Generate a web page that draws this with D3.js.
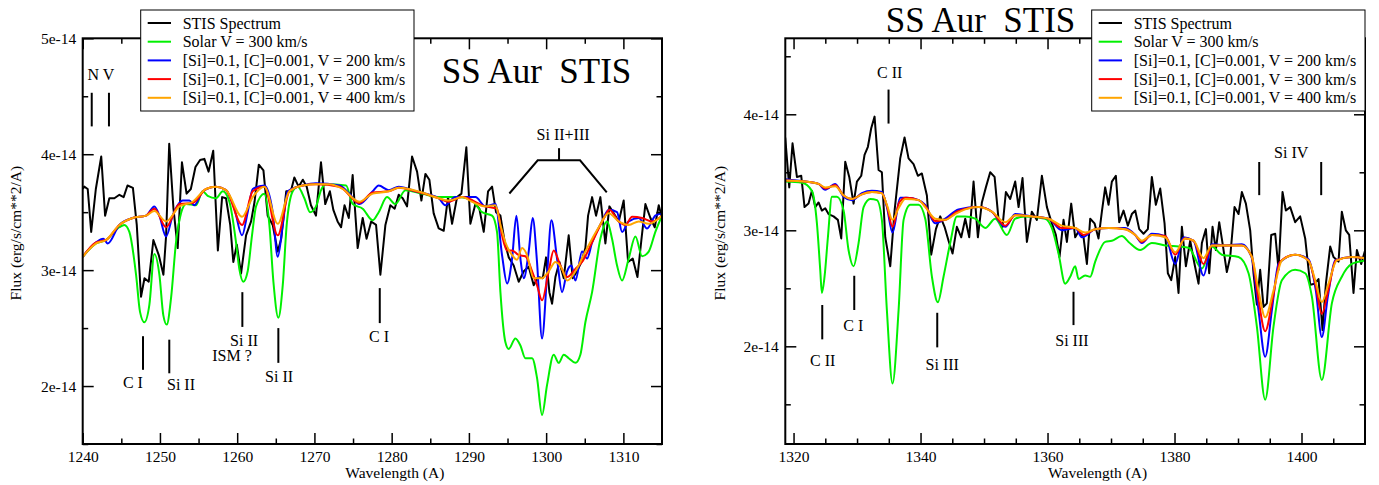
<!DOCTYPE html>
<html>
<head>
<meta charset="utf-8">
<script src="https://cdn.jsdelivr.net/npm/d3@7"></script>
<style>
  body { margin: 0; background: #fff; }
  svg text { font-family: "Liberation Serif", "Times New Roman", serif; fill: #000; }
  .axis .tick text { font-size: 15.5px; font-family: "Liberation Serif", "Times New Roman", serif; }
  .axis line { stroke: #000; stroke-width: 1.5; }
  .axis path.domain { display: none; }
  .frame { fill: none; stroke: #000; stroke-width: 2; }
  .spec { fill: none; stroke-width: 2; stroke-linejoin: round; }
  .legend-box { fill: #fff; stroke: #000; stroke-width: 1; }
  .legend-label { font-size: 16px; }
  .note { font-size: 16px; text-anchor: middle; }
  .marker { stroke: #000; stroke-width: 2; fill: none; }
  .title { font-size: 35px; white-space: pre; }
  .axis-title { font-size: 15.5px; text-anchor: middle; }
</style>
</head>
<body>
<div id="chart"></div>
<script>
// Flux is in units of 1e-14 erg/s/cm**2/A, wavelength in Angstrom

const seriesNames = ["STIS Spectrum", "Solar V = 300 km/s",
  "[Si]=0.1, [C]=0.001, V = 200 km/s", "[Si]=0.1, [C]=0.001, V = 300 km/s",
  "[Si]=0.1, [C]=0.001, V = 400 km/s"];
const seriesColors = ["#000000", "#00f000", "#0000ff", "#ff0000", "#ffa500"];

// ---------- left panel (1240 - 1315 A) ----------
const leftXTicks = [1240, 1250, 1260, 1270, 1280, 1290, 1300, 1310];
const leftXMinor = [1245, 1255, 1265, 1275, 1285, 1295, 1305];
const leftYTicks = [2, 3, 4, 5];
const leftYMinor = [1.5, 2.5, 3.5, 4.5];

const leftStis = [[1240.0,3.70],[1240.2,3.72],[1240.65,3.70],[1241.1,3.33],[1241.7,3.70],[1242.4,3.98],[1242.9,3.47],
  [1243.45,3.62],[1244.1,3.62],[1244.75,3.65],[1245.3,3.63],[1245.8,3.73],[1246.5,3.71],[1247.0,3.39],[1247.55,2.77],
  [1248.0,2.93],[1248.55,2.90],[1249.15,3.26],[1249.85,3.13],[1250.45,2.96],[1250.8,3.30],[1251.2,4.09],[1251.75,3.53],
  [1252.3,3.19],[1252.85,3.93],[1253.45,3.66],[1254.0,3.70],[1254.6,3.89],[1255.2,3.95],[1255.75,3.96],[1256.3,3.85],
  [1256.9,4.03],[1257.5,3.17],[1258.05,3.63],[1258.55,3.62],[1259.1,3.39],[1259.5,3.07],[1259.95,3.22],[1260.5,2.97],
  [1261.15,3.30],[1261.8,3.42],[1262.25,3.59],[1262.8,3.91],[1263.4,3.86],[1263.95,3.47],[1264.6,3.39],[1265.25,3.16],
  [1265.7,3.27],[1266.35,3.68],[1266.95,3.68],[1267.4,3.80],[1267.95,3.72],[1268.5,3.78],[1269.0,3.72],[1269.55,3.56],
  [1270.2,3.47],[1270.85,3.93],[1271.4,3.57],[1272.0,3.68],[1272.45,3.52],[1273.0,3.42],[1273.45,3.37],[1273.9,3.56],
  [1274.45,3.45],[1274.95,3.82],[1275.6,3.19],[1276.25,3.45],[1276.75,3.27],[1277.35,3.42],[1277.98,3.39],[1278.54,2.96],
  [1279.19,3.39],[1279.83,3.56],[1280.39,3.53],[1280.91,3.65],[1281.43,3.62],[1281.99,3.55],[1282.64,3.98],[1283.29,3.85],
  [1283.85,3.60],[1284.37,3.83],[1284.88,3.78],[1285.44,3.49],[1286.09,3.36],[1286.74,3.34],[1287.30,3.63],[1287.82,3.40],
  [1288.47,3.63],[1289.03,3.66],[1289.67,4.06],[1290.19,3.40],[1290.84,3.57],[1291.36,3.53],[1291.92,3.33],[1292.48,3.68],
  [1293.00,3.72],[1293.51,3.50],[1294.08,3.47],[1294.64,3.24],[1295.16,3.11],[1295.80,3.04],[1296.45,2.90],[1297.10,2.99],
  [1297.74,3.03],[1298.39,2.87],[1298.95,2.94],[1299.56,2.93],[1299.99,3.11],[1300.42,2.81],[1300.77,2.71],[1301.20,2.94],
  [1301.72,3.07],[1302.28,2.93],[1302.92,3.30],[1303.44,2.93],[1304.00,2.99],[1304.56,3.07],[1305.08,3.19],[1305.43,3.47],
  [1305.95,3.63],[1306.46,3.47],[1307.02,3.63],[1307.67,3.23],[1308.19,3.55],[1308.75,3.49],[1309.40,3.42],[1310.04,3.60],
  [1310.61,3.07],[1311.21,3.10],[1311.82,2.94],[1312.33,3.26],[1312.85,3.57],[1313.50,3.45],[1314.06,3.37],[1314.58,3.56],
  [1315.0,3.45]];

const leftSolar = [[1240.0,3.115],[1241.73,3.23],[1243.02,3.26],[1244.75,3.37],[1245.39,3.39],[1246.04,3.33],[1246.91,2.96],
  [1247.42,2.64],[1247.98,2.55],[1248.63,2.70],[1249.28,3.14],[1249.93,2.96],[1250.44,2.61],[1250.88,2.53],[1251.44,2.76],
  [1252.08,3.24],[1252.73,3.49],[1253.38,3.57],[1254.67,3.56],[1255.54,3.68],[1256.18,3.64],[1257.26,3.62],[1258.13,3.68],
  [1258.99,3.59],[1259.85,3.24],[1260.28,3.01],[1260.80,2.90],[1261.36,2.99],[1261.92,3.30],[1262.44,3.55],[1263.52,3.66],
  [1264.17,3.39],[1264.69,2.90],[1265.33,2.59],[1265.90,2.87],[1266.41,3.39],[1267.19,3.68],[1267.84,3.72],[1268.70,3.62],
  [1269.44,3.50],[1270.21,3.55],[1270.86,3.69],[1271.51,3.74],[1274.10,3.73],[1274.96,3.57],[1276.25,3.53],[1277.55,3.43],
  [1278.32,3.50],[1279.40,3.63],[1280.48,3.57],[1281.78,3.69],[1283.93,3.66],[1286.09,3.63],[1288.68,3.63],[1290.41,3.60],
  [1291.70,3.50],[1293.00,3.47],[1293.64,3.33],[1294.08,2.81],[1294.72,2.38],[1295.16,2.32],[1296.02,2.41],[1296.67,2.35],
  [1297.31,2.24],[1298.18,2.24],[1298.82,2.07],[1299.47,1.75],[1300.12,2.01],[1300.98,2.27],[1301.63,2.20],[1302.28,2.27],
  [1302.92,2.24],[1303.79,2.20],[1304.43,2.27],[1305.08,2.55],[1305.95,2.81],[1307.02,3.27],[1307.89,3.42],[1308.53,3.27],
  [1309.18,3.04],[1309.83,2.91],[1310.69,3.10],[1311.56,3.29],[1312.42,3.12],[1313.28,3.16],[1314.14,3.33],[1315.0,3.47]];

const leftV200 = [[1240.0,3.115],[1241.73,3.24],[1242.68,3.27],[1243.24,3.23],[1244.75,3.39],[1246.47,3.45],[1248.20,3.47],
  [1249.28,3.55],[1249.93,3.47],[1250.79,3.29],[1251.65,3.47],[1252.95,3.60],[1253.81,3.60],[1254.46,3.56],[1255.54,3.68],
  [1257.26,3.72],[1258.56,3.69],[1259.64,3.53],[1260.63,3.30],[1261.36,3.50],[1262.01,3.70],[1263.52,3.73],[1264.60,3.50],
  [1265.25,3.115],[1265.90,3.39],[1266.54,3.68],[1268.49,3.73],[1270.21,3.75],[1273.23,3.73],[1274.53,3.66],[1275.82,3.57],
  [1277.55,3.68],[1278.32,3.73],[1279.62,3.69],[1280.91,3.72],[1283.07,3.68],[1286.09,3.62],[1286.95,3.56],[1288.25,3.63],
  [1290.84,3.63],[1292.13,3.55],[1293.43,3.57],[1294.29,3.13],[1294.94,2.885],[1295.59,3.10],[1296.15,3.47],[1296.67,3.10],
  [1297.10,2.93],[1297.74,3.16],[1298.26,3.45],[1298.82,3.07],[1299.47,2.41],[1300.12,2.96],[1300.68,3.43],[1301.41,3.10],
  [1302.06,2.81],[1302.71,2.99],[1303.27,3.04],[1303.79,2.91],[1304.65,3.16],[1305.30,3.10],[1305.95,3.24],[1307.24,3.42],
  [1308.10,3.52],[1309.18,3.50],[1309.83,3.33],[1310.69,3.42],[1311.99,3.45],[1313.07,3.36],[1314.14,3.47],[1315.0,3.49]];

const leftV300 = [[1240.0,3.115],[1241.73,3.24],[1243.02,3.26],[1244.75,3.39],[1246.47,3.45],[1248.20,3.47],[1249.28,3.53],
  [1250.79,3.37],[1252.52,3.57],[1254.24,3.58],[1255.97,3.70],[1257.26,3.72],[1258.56,3.69],[1260.63,3.39],[1262.01,3.68],
  [1263.52,3.72],[1265.25,3.30],[1266.76,3.68],[1268.49,3.73],[1270.21,3.74],[1273.23,3.72],[1275.82,3.58],[1277.55,3.67],
  [1279.62,3.68],[1280.91,3.71],[1283.07,3.68],[1286.09,3.62],[1287.39,3.59],[1289.11,3.63],[1292.13,3.55],[1293.64,3.53],
  [1294.29,3.30],[1294.94,3.17],[1295.59,3.17],[1296.45,3.13],[1297.31,3.12],[1298.18,2.99],[1298.82,2.87],[1299.47,2.74],
  [1300.33,2.99],[1300.98,3.17],[1301.84,3.04],[1302.71,2.94],[1303.79,3.01],[1304.65,3.07],[1305.95,3.24],[1307.67,3.47],
  [1308.19,3.52],[1309.40,3.42],[1310.26,3.39],[1311.13,3.46],[1312.42,3.45],[1313.71,3.42],[1315.0,3.47]];

const leftV400 = [[1240.0,3.115],[1241.73,3.23],[1243.02,3.26],[1244.75,3.39],[1246.47,3.45],[1248.20,3.47],[1249.28,3.51],
  [1250.79,3.42],[1252.52,3.55],[1254.24,3.59],[1255.97,3.70],[1257.26,3.72],[1258.56,3.69],[1260.63,3.46],[1262.01,3.63],
  [1263.52,3.72],[1265.25,3.40],[1266.76,3.68],[1268.49,3.73],[1270.21,3.74],[1271.94,3.74],[1273.66,3.70],[1275.82,3.59],
  [1277.55,3.66],[1279.62,3.68],[1280.91,3.71],[1282.21,3.70],[1283.93,3.67],[1286.09,3.62],[1287.39,3.60],[1289.11,3.63],
  [1290.41,3.59],[1292.13,3.55],[1293.43,3.56],[1294.08,3.39],[1294.72,3.24],[1295.59,3.13],[1296.23,3.09],[1296.88,3.19],
  [1297.53,3.13],[1298.39,2.93],[1299.47,2.93],[1300.33,2.99],[1301.20,3.07],[1302.06,3.01],[1302.71,2.91],[1303.79,2.99],
  [1305.08,3.16],[1306.81,3.37],[1308.10,3.49],[1309.40,3.42],[1310.69,3.39],[1311.99,3.42],[1313.28,3.40],[1315.0,3.47]];

// line identifications: tick marks and labels, in data coordinates
const leftMarks = [
  [[1241.17,4.53],[1241.17,4.24]], [[1243.4,4.53],[1243.4,4.24]],
  [[1247.81,2.43],[1247.81,2.14]], [[1251.21,2.40],[1251.21,2.11]],
  [[1260.67,2.81],[1260.67,2.51]], [[1265.33,2.50],[1265.33,2.20]],
  [[1278.46,2.845],[1278.46,2.543]],
  [[1301.67,4.052],[1301.67,3.948]],
  [[1295.24,3.661],[1298.91,3.948],[1304.39,3.948],[1307.85,3.670]]
];
const leftNotes = [
  {text: "N V", at: [1242.37, 4.64]},
  {text: "C I", at: [1246.5, 1.983]},
  {text: "Si II", at: [1252.73, 1.966]},
  {text: "Si II", at: [1260.89, 2.345]},
  {text: "ISM ?", at: [1259.33, 2.218]},
  {text: "Si II", at: [1265.42, 2.037]},
  {text: "C I", at: [1278.37, 2.382]},
  {text: "Si II+III", at: [1302.19, 4.121]}
];

// ---------- right panel (1318.7 - 1410 A) ----------
const rightXTicks = [1320, 1340, 1360, 1380, 1400];
const rightXMinor = [1325, 1330, 1335, 1345, 1350, 1355, 1365, 1370, 1375, 1385, 1390, 1395, 1405];
const rightYTicks = [2, 3, 4];
const rightYMinor = [1.5, 2.5, 3.5, 4.5];

const rightStis = [[1318.69,3.80],[1319.32,3.37],[1319.84,3.75],[1320.53,3.46],[1321.21,3.47],[1321.73,3.20],[1322.36,3.23],
  [1322.89,3.34],[1323.41,3.20],[1323.94,3.24],[1324.46,3.17],[1324.99,3.19],[1325.51,3.14],[1326.30,3.12],[1326.98,3.09],
  [1327.51,2.93],[1328.14,3.59],[1328.77,3.46],[1329.45,3.23],[1329.98,3.42],[1330.66,3.47],[1331.18,3.65],[1331.71,3.72],
  [1332.23,3.88],[1332.76,3.98],[1333.39,3.52],[1333.91,3.50],[1334.44,2.94],[1335.23,2.69],[1335.91,3.17],[1336.80,3.62],
  [1337.48,3.80],[1338.11,3.62],[1338.90,3.57],[1339.58,3.47],[1340.21,3.49],[1341.00,3.30],[1341.68,2.79],[1342.42,3.01],
  [1343.10,3.12],[1343.78,3.03],[1344.41,2.91],[1345.04,2.80],[1345.72,3.03],[1346.41,2.94],[1347.04,3.10],[1347.67,2.94],
  [1348.35,3.42],[1349.03,2.94],[1349.66,3.24],[1350.29,3.37],[1350.97,3.50],[1351.66,3.46],[1352.29,3.09],[1352.91,3.03],
  [1353.44,3.33],[1354.12,3.27],[1354.91,3.42],[1355.44,3.20],[1356.06,3.45],[1356.75,2.90],[1357.53,3.16],[1358.32,3.09],
  [1359.11,3.47],[1359.90,3.20],[1360.68,3.06],[1361.31,2.96],[1361.89,2.77],[1362.52,3.09],[1363.05,2.90],[1363.73,3.23],
  [1364.36,2.94],[1364.88,2.99],[1365.67,2.94],[1366.20,2.71],[1366.72,3.10],[1367.40,3.06],[1368.03,2.93],[1368.56,3.16],
  [1369.08,3.37],[1369.61,3.22],[1370.13,3.42],[1370.76,3.47],[1371.29,3.07],[1371.97,3.17],[1372.65,3.04],[1373.28,3.14],
  [1373.81,3.17],[1374.44,3.01],[1375.12,2.97],[1375.80,3.01],[1376.43,3.46],[1377.06,3.22],[1377.75,3.36],[1378.43,3.06],
  [1378.95,2.63],[1379.48,2.57],[1380.11,2.77],[1380.63,2.46],[1381.16,3.03],[1381.79,2.69],[1382.47,2.91],[1383.15,2.71],
  [1383.78,2.54],[1384.31,2.89],[1384.94,3.01],[1385.46,2.63],[1385.99,3.03],[1386.51,2.83],[1387.04,3.07],[1387.56,2.89],
  [1388.24,2.64],[1388.77,2.77],[1389.45,3.20],[1390.08,3.14],[1390.61,3.33],[1391.24,3.23],[1391.92,3.00],[1392.44,2.63],
  [1392.97,2.36],[1393.49,2.66],[1394.02,2.34],[1394.54,2.37],[1395.23,2.96],[1395.86,2.97],[1396.38,2.66],[1397.01,3.33],
  [1397.54,3.17],[1398.22,3.20],[1399.00,3.07],[1399.79,3.12],[1400.58,2.93],[1401.37,2.53],[1402.05,2.54],[1402.68,2.58],
  [1403.31,2.14],[1403.84,2.54],[1404.52,2.86],[1405.04,2.77],[1405.83,2.73],[1406.35,3.16],[1406.98,3.00],[1407.51,2.96],
  [1408.19,2.46],[1408.72,2.83],[1409.40,2.71],[1410.03,2.83]];

const rightSolar = [[1318.69,3.42],[1321.31,3.41],[1322.89,3.34],[1323.68,3.06],[1324.20,2.66],[1324.46,2.46],[1324.88,2.60],
  [1325.41,2.94],[1326.04,3.29],[1326.83,3.29],[1327.88,3.17],[1328.66,2.83],[1329.45,2.69],[1330.24,2.89],[1331.03,3.20],
  [1332.08,3.27],[1333.13,3.26],[1333.91,3.09],[1334.70,2.31],[1335.59,1.68],[1336.54,2.31],[1337.33,3.09],[1338.38,3.22],
  [1339.69,3.22],[1340.74,3.10],[1341.79,2.60],[1342.73,2.38],[1343.62,2.60],[1344.67,2.89],[1345.72,3.12],[1347.04,3.12],
  [1348.61,3.10],[1350.19,3.02],[1351.76,3.10],[1353.60,2.96],[1354.91,3.10],[1356.48,3.12],[1359.63,3.10],[1360.68,3.02],
  [1361.73,2.80],[1362.78,2.54],[1363.57,2.60],[1364.36,2.69],[1364.88,2.58],[1365.93,2.61],[1366.72,2.60],[1367.51,2.73],
  [1369.08,2.90],[1370.13,2.91],[1371.71,2.95],[1372.76,2.90],[1374.60,2.83],[1376.43,2.89],[1378.53,2.87],[1380.63,2.86],
  [1382.21,2.85],[1384.31,2.67],[1385.88,2.86],[1387.46,2.79],[1390.08,2.77],[1391.66,2.63],[1392.97,2.17],[1394.28,1.54],
  [1395.59,2.17],[1396.91,2.57],[1399.00,2.66],[1400.58,2.63],[1401.63,2.43],[1403.20,1.71],[1404.78,2.37],[1406.35,2.60],
  [1407.93,2.71],[1410.03,2.74]];

const rightV200 = [[1318.69,3.44],[1321.84,3.42],[1323.94,3.40],[1324.99,3.35],[1326.56,3.40],[1327.88,3.29],[1329.19,3.26],
  [1330.76,3.32],[1332.34,3.34],[1333.91,3.33],[1334.70,3.20],[1335.59,2.98],[1336.80,3.28],[1337.85,3.28],[1339.69,3.26],
  [1340.74,3.22],[1342.31,3.06],[1343.89,3.10],[1345.98,3.18],[1349.14,3.20],[1351.24,3.16],[1353.34,3.03],[1354.91,3.14],
  [1357.53,3.12],[1360.16,3.10],[1362.26,3.00],[1364.36,3.02],[1365.41,2.94],[1367.51,3.01],[1369.61,3.02],[1372.23,3.02],
  [1373.81,2.96],[1374.86,2.89],[1376.43,2.97],[1378.53,2.95],[1380.11,2.71],[1381.42,2.94],[1383.00,2.91],[1384.57,2.61],
  [1385.88,2.88],[1387.98,2.87],[1390.61,2.88],[1392.18,2.76],[1393.23,2.31],[1394.28,1.91],[1395.33,2.31],[1396.38,2.71],
  [1399.00,2.79],[1401.10,2.75],[1402.26,2.48],[1403.20,2.08],[1404.15,2.43],[1405.31,2.74],[1407.93,2.77],[1410.03,2.76]];

const rightV300 = [[1318.69,3.43],[1321.84,3.42],[1323.94,3.40],[1324.99,3.36],[1326.56,3.39],[1327.88,3.30],[1329.19,3.27],
  [1330.76,3.31],[1332.34,3.33],[1333.91,3.32],[1334.70,3.21],[1335.59,3.03],[1336.64,3.24],[1337.69,3.28],[1339.69,3.26],
  [1340.74,3.21],[1342.31,3.08],[1343.89,3.09],[1345.72,3.16],[1349.14,3.20],[1351.24,3.16],[1353.34,3.04],[1354.91,3.13],
  [1357.53,3.12],[1360.16,3.10],[1362.26,3.02],[1364.36,3.02],[1365.67,2.96],[1367.51,3.01],[1369.61,3.02],[1372.23,3.01],
  [1373.81,2.96],[1374.86,2.90],[1376.43,2.96],[1378.53,2.95],[1380.11,2.79],[1381.58,2.93],[1383.00,2.91],[1384.57,2.71],
  [1385.88,2.87],[1387.98,2.87],[1390.61,2.87],[1392.18,2.77],[1393.23,2.40],[1394.28,2.13],[1395.44,2.40],[1396.64,2.73],
  [1399.00,2.79],[1401.10,2.74],[1402.21,2.53],[1403.20,2.28],[1404.20,2.48],[1405.41,2.74],[1407.93,2.77],[1410.03,2.76]];

const rightV400 = [[1318.69,3.43],[1321.84,3.42],[1323.94,3.40],[1324.99,3.37],[1326.56,3.38],[1327.88,3.30],[1329.19,3.27],
  [1330.76,3.31],[1332.34,3.33],[1333.91,3.32],[1334.70,3.22],[1335.59,3.09],[1336.54,3.19],[1337.59,3.27],[1339.69,3.26],
  [1340.74,3.20],[1342.31,3.10],[1343.89,3.09],[1345.46,3.14],[1347.04,3.18],[1349.14,3.20],[1351.24,3.16],[1353.34,3.07],
  [1354.91,3.13],[1357.53,3.12],[1360.16,3.10],[1362.26,3.04],[1364.36,3.02],[1365.93,2.98],[1367.51,3.01],[1369.61,3.02],
  [1372.23,3.01],[1373.81,2.96],[1374.86,2.91],[1376.43,2.96],[1378.53,2.94],[1380.11,2.81],[1381.68,2.93],[1383.00,2.91],
  [1384.57,2.76],[1385.88,2.87],[1387.98,2.87],[1390.61,2.87],[1392.18,2.77],[1393.23,2.48],[1394.28,2.25],[1395.59,2.48],
  [1396.91,2.74],[1399.00,2.79],[1401.10,2.74],[1402.16,2.57],[1403.20,2.38],[1404.25,2.54],[1405.57,2.74],[1407.93,2.77],
  [1410.03,2.76]];

const rightMarks = [
  [[1334.96,4.213],[1334.96,3.92]],
  [[1324.52,2.356],[1324.52,2.06]],
  [[1329.56,2.608],[1329.56,2.313]],
  [[1342.63,2.289],[1342.63,1.991]],
  [[1364.09,2.47],[1364.09,2.183]],
  [[1393.34,3.589],[1393.34,3.303]], [[1403.1,3.589],[1403.1,3.303]]
];
const rightNotes = [
  {text: "C II", at: [1335.15, 4.316]},
  {text: "C II", at: [1324.6, 1.83]},
  {text: "C I", at: [1329.4, 2.134]},
  {text: "Si III", at: [1343.42, 1.796]},
  {text: "Si III", at: [1363.84, 2.003]},
  {text: "Si IV", at: [1398.38, 3.619]}
];

class SpectrumPanel {
    constructor(_config, _series, _marks, _notes) {
        this.config = _config;
        this.series = _series;
        this.marks = _marks;
        this.notes = _notes;
        this.initVis();
    }

    initVis() {
        let vis = this;
        let c = vis.config;

        vis.width = c.width;
        vis.height = c.height;

        vis.chart = c.svg.append("g")
            .attr("transform", `translate(${c.left},${c.top})`);

        vis.xScale = d3.scaleLinear().domain(c.xDomain).range([0, vis.width]);
        vis.yScale = d3.scaleLinear().domain(c.yDomain).range([vis.height, 0]);

        vis.chart.append("clipPath")
            .attr("id", c.id + "-clip")
          .append("rect")
            .attr("width", vis.width)
            .attr("height", vis.height);

        vis.renderVis();
    }

    renderVis() {
        let vis = this;
        let c = vis.config;
        let fmt = d => d + "e-14";

        // curves
        let line = d3.line()
            .x(d => vis.xScale(d[0]))
            .y(d => vis.yScale(d[1]));

        vis.chart.append("g")
            .attr("clip-path", `url(#${c.id}-clip)`)
          .selectAll("path")
          .data(vis.series)
          .join("path")
            .attr("class", "spec")
            .attr("stroke", (d, i) => seriesColors[i])
            .attr("d", (d, i) => line.curve(i === 0 ? d3.curveLinear : d3.curveMonotoneX)(d));

        // axes, ticks pointing inward on all four sides
        let addAxis = (axisFn, transform, major, minor, labelled) => {
            let g = vis.chart.append("g").attr("class", "axis").attr("transform", transform);
            g.call(axisFn.tickValues(minor).tickSize(-5.5).tickSizeOuter(0).tickFormat(""));
            let g2 = vis.chart.append("g").attr("class", "axis").attr("transform", transform);
            g2.call(axisFn.tickValues(major).tickSize(-11).tickSizeOuter(0)
                .tickPadding(labelled ? 6.5 : 0)
                .tickFormat(labelled ? labelled : ""));
            g2.attr("font-family", null);
        };
        addAxis(d3.axisBottom(vis.xScale), `translate(0,${vis.height})`, c.xTicks, c.xMinor, d => d);
        addAxis(d3.axisTop(vis.xScale), "translate(0,0)", c.xTicks, c.xMinor, null);
        addAxis(d3.axisLeft(vis.yScale), "translate(0,0)", c.yTicks, c.yMinor, fmt);
        addAxis(d3.axisRight(vis.yScale), `translate(${vis.width},0)`, c.yTicks, c.yMinor, null);

        vis.chart.append("rect")
            .attr("class", "frame")
            .attr("width", vis.width)
            .attr("height", vis.height);

        // line identification marks
        let markLine = d3.line()
            .x(d => vis.xScale(d[0]))
            .y(d => vis.yScale(d[1]));
        vis.chart.selectAll(".marker")
            .data(vis.marks)
            .join("path")
            .attr("class", "marker")
            .attr("d", markLine);

        vis.chart.selectAll(".note")
            .data(vis.notes)
            .join("text")
            .attr("class", "note")
            .attr("x", d => vis.xScale(d.at[0]))
            .attr("y", d => vis.yScale(d.at[1]))
            .text(d => d.text);

        // axis titles
        vis.chart.append("text")
            .attr("class", "axis-title")
            .attr("x", vis.width / 2 + 22.5)
            .attr("y", vis.height + 34)
            .text("Wavelength (A)");

        vis.chart.append("text")
            .attr("class", "axis-title")
            .attr("transform", `translate(${c.yTitleX},${vis.height / 2 - 8}) rotate(-90)`)
            .text("Flux (erg/s/cm**2/A)");

        // chart title
        c.svg.append("text")
            .attr("class", "title")
            .attr("x", c.titleX)
            .attr("y", c.titleY)
            .text("SS Aur  STIS");

        // legend
        let lg = c.svg.append("g")
            .attr("transform", `translate(${c.legendX},10)`);
        lg.append("rect")
            .attr("class", "legend-box")
            .attr("width", 273.3)
            .attr("height", 101);
        let rows = lg.selectAll(".legend-row")
            .data(seriesNames)
            .join("g")
            .attr("class", "legend-row")
            .attr("transform", (d, i) => `translate(0,${13 + i * 18.7})`);
        rows.append("line")
            .attr("x1", 7).attr("x2", 30.3)
            .attr("stroke", (d, i) => seriesColors[i])
            .attr("stroke-width", 2);
        rows.append("text")
            .attr("class", "legend-label")
            .attr("x", 42)
            .attr("y", 5.5)
            .text(d => d);
    }
}

const svg = d3.select("#chart").append("svg")
    .attr("width", 1379)
    .attr("height", 485);

new SpectrumPanel({
    svg: svg, id: "left",
    left: 82.7, top: 38.3, width: 579.3, height: 405.7,
    xDomain: [1240, 1315], yDomain: [1.5, 5],
    xTicks: leftXTicks, xMinor: leftXMinor, yTicks: leftYTicks, yMinor: leftYMinor,
    yTitleX: -61.7, titleX: 441.7, titleY: 83, legendX: 140.7
}, [leftStis, leftSolar, leftV200, leftV300, leftV400], leftMarks, leftNotes);

new SpectrumPanel({
    svg: svg, id: "right",
    left: 785.3, top: 38.3, width: 579.7, height: 405.7,
    xDomain: [1318.7, 1410], yDomain: [1.158, 4.655],
    xTicks: rightXTicks, xMinor: rightXMinor, yTicks: rightYTicks, yMinor: rightYMinor,
    yTitleX: -60.3, titleX: 885.7, titleY: 32, legendX: 1091.7
}, [rightStis, rightSolar, rightV200, rightV300, rightV400], rightMarks, rightNotes);
</script>
</body>
</html>
